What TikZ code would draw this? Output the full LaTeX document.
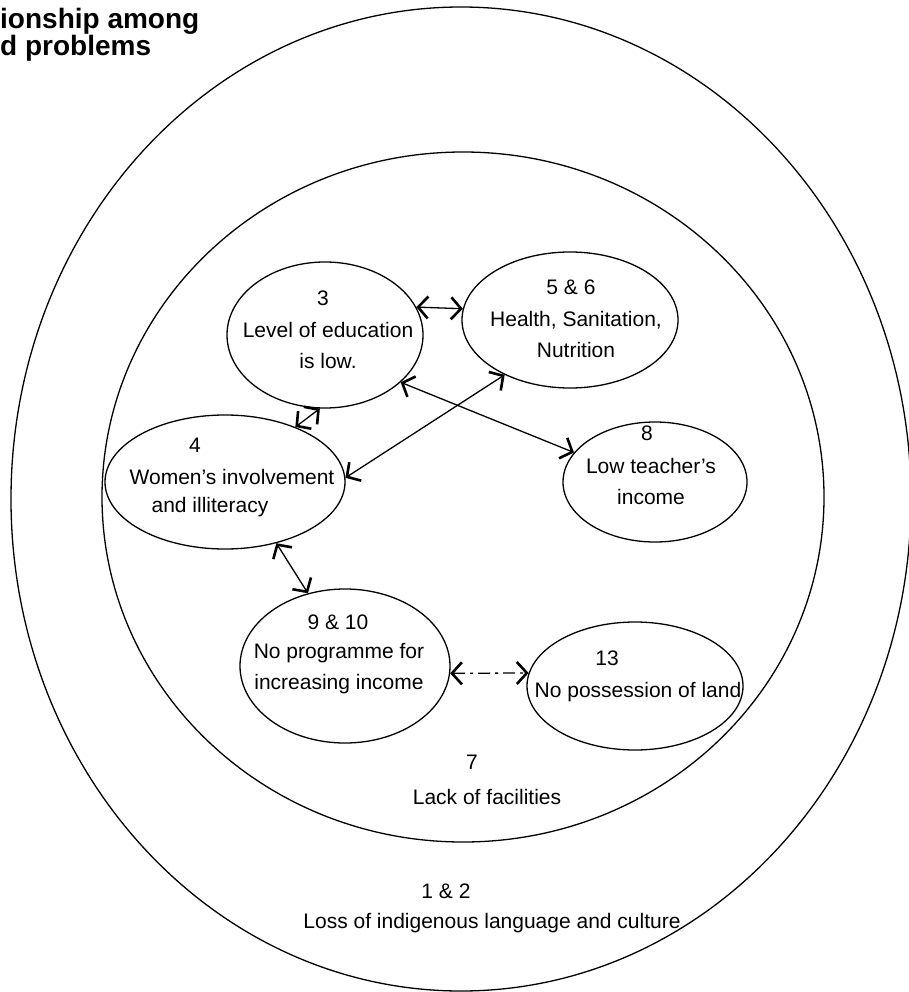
\documentclass[tikz,border=0pt]{standalone}
\usepackage{fontspec}
\setmainfont{Liberation Sans}
\usetikzlibrary{shapes.geometric,arrows.meta}

\begin{document}
\begin{tikzpicture}[x=1pt,y=-1pt,
    bubble/.style={draw, ellipse, inner sep=0pt, line width=1.3pt},
    txt/.style={font=\fontsize{21}{31}\selectfont, inner sep=0pt, align=center},
    link/.style={<->, line width=1.3pt, >={Straight Barb[length=10pt,width=22pt,line width=2.6pt]}}]
  \useasboundingbox (0,0) rectangle (909,992);
  % the two rings
  \draw[line width=1.3pt] (461,499) ellipse [x radius=450pt, y radius=492pt];
  \draw[line width=1.3pt] (463,497) ellipse [x radius=361pt, y radius=345pt];
  % title, cut at the left edge
  \node[anchor=north west, inner sep=0pt, align=left, font=\fontsize{28}{25}\selectfont\bfseries] (title) at (0,8) {ionship among\\d problems};

  % problem bubbles
  \node[bubble, minimum width=196pt, minimum height=146pt] (e3) at (325,335) {};
  \node[bubble, minimum width=216pt, minimum height=136pt] (e56) at (570,320) {};
  \node[bubble, minimum width=240pt, minimum height=134pt] (e4) at (225,482) {};
  \node[bubble, minimum width=184pt, minimum height=120pt] (e8) at (655,482) {};
  \node[bubble, minimum width=210pt, minimum height=154pt] (e910) at (345,666) {};
  \node[bubble, minimum width=216pt, minimum height=128pt] (e13) at (635,686) {};

  % texts
  \node[txt] (n3) at (323,298) {3};
  \node[txt] (t3) at (328,345) {Level of education\\is low.};
  \node[txt] (n56) at (571,287) {5 \& 6};
  \node[txt] (t56) at (576,334) {Health, Sanitation,\\Nutrition};
  \node[txt] (n4) at (195,445) {4};
  \node[txt] (t4a) at (232,477) {Women's involvement};
  \node[txt] (t4b) at (210,507) {and illiteracy};
  \node[txt] (n8) at (647,433) {8};
  \node[txt] (t8) at (651,481) {Low teacher's\\income};
  \node[txt] (n910) at (338,622) {9 \& 10};
  \node[txt] (t910) at (339,669) {No programme for\\increasing income};
  \node[txt] (n13) at (607,658) {13};
  \node[txt] (t13) at (638,692) {No possession of land};
  \node[txt] (n7) at (472,762) {7};
  \node[txt] (t7) at (487,797) {Lack of facilities};
  \node[txt] (n12) at (446,891) {1 \& 2};
  \node[txt] (t12) at (492,923) {Loss of indigenous language and culture};

  % links
  \draw[link] (e3.17) -- (e56.174);
  \draw[link] (e3.266) -- (e4.38);
  \draw[link] (e4.2) -- (e56.220);
  \draw[link] (e3.-32) -- (e8.160);
  \draw[link] (e4.-50) -- (e910.117);
  \draw[link, dash pattern=on 12pt off 5pt on 3pt off 5pt] (e910.-4) -- (e13.173);
\end{tikzpicture}
\end{document}
